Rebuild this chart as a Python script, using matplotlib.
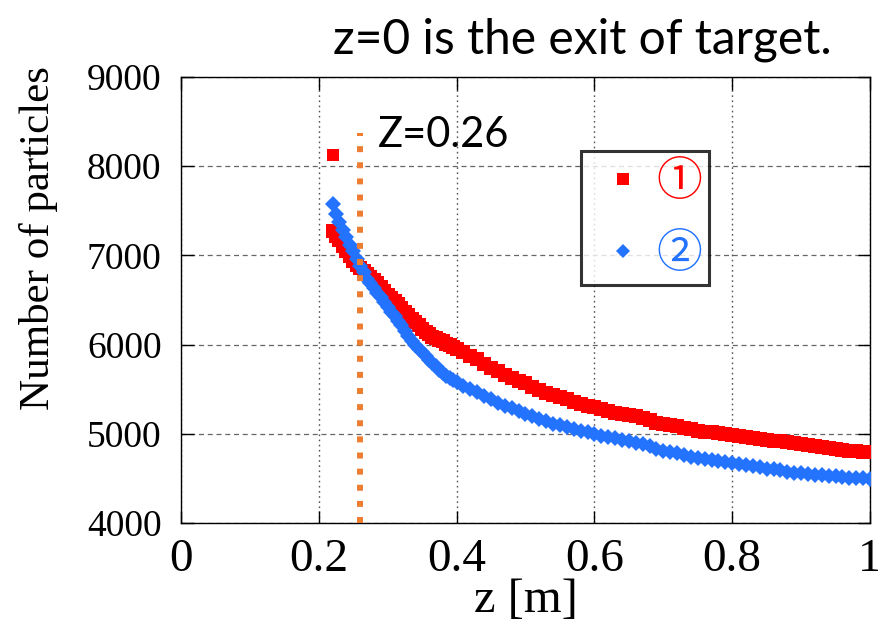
import numpy as np
import matplotlib
matplotlib.use("Agg")
import matplotlib.pyplot as plt

# particle counts along the beam line: every 5 mm up to 0.40 m, then every 1 cm
z_near = np.round(np.arange(0.22, 0.4001, 0.005), 3)
z_far = np.round(np.arange(0.41, 1.0001, 0.01), 2)

n_case1_near = [
    7270, 7220, 7170, 7110, 7050, 6990, 6935, 6895, 6860, 6825,
    6790, 6755, 6720, 6685, 6645, 6600, 6560, 6525, 6485, 6450,
    6410, 6370, 6330, 6290, 6255, 6215, 6180, 6145, 6115, 6090,
    6070, 6050, 6035, 6010, 5990, 5975, 5955,
]
n_case1_far = [
    5915, 5875, 5835, 5780, 5740, 5700, 5660, 5625, 5595, 5565,
    5530, 5490, 5460, 5440, 5415, 5385, 5355, 5335, 5315, 5295,
    5275, 5255, 5235, 5225, 5210, 5195, 5180, 5150, 5125, 5110,
    5100, 5090, 5070, 5050, 5035, 5025, 5015, 5005, 4995, 4985,
    4975, 4960, 4950, 4940, 4930, 4920, 4915, 4905, 4900, 4890,
    4875, 4865, 4850, 4840, 4830, 4820, 4810, 4805, 4800, 4795,
]
n_case2_near = [
    7580, 7460, 7380, 7290, 7205, 7120, 7045, 6960, 6880, 6810,
    6740, 6685, 6630, 6580, 6530, 6475, 6420, 6370, 6320, 6270,
    6215, 6155, 6095, 6045, 6000, 5955, 5915, 5870, 5830, 5795,
    5760, 5720, 5680, 5650, 5625, 5600, 5580,
]
n_case2_far = [
    5540, 5500, 5465, 5425, 5385, 5350, 5315, 5285, 5255, 5225,
    5195, 5165, 5140, 5115, 5095, 5075, 5055, 5035, 5015, 4995,
    4980, 4965, 4950, 4935, 4920, 4900, 4885, 4860, 4830, 4810,
    4800, 4785, 4765, 4745, 4730, 4720, 4705, 4695, 4685, 4675,
    4660, 4650, 4635, 4625, 4610, 4600, 4590, 4575, 4565, 4555,
    4545, 4540, 4535, 4530, 4525, 4515, 4510, 4505, 4500, 4495,
]
# first sample of case 1 sits well above the rest
z_case1_first = [0.22]
n_case1_first = [8130]

z_cut = 0.26
n_cut_top = 8370

x_ticks = [0, 0.2, 0.4, 0.6, 0.8, 1]
x_ticklabels = ["0", "0.2", "0.4", "0.6", "0.8", "1"]
y_ticks = [4000, 5000, 6000, 7000, 8000, 9000]

RED = "#ff0000"
BLUE = "#2473ff"
ORANGE = "#ed7d31"
SERIF = "Liberation Serif"

z = np.concatenate([z_near, z_far])
n_case1 = n_case1_near + n_case1_far
n_case2 = n_case2_near + n_case2_far

fig = plt.figure(figsize=(8.79, 6.32), dpi=100)
ax = fig.add_axes([181 / 879, 1 - 523 / 632, 689 / 879, 446 / 632])

ax.plot(z, n_case1, "s", color=RED, ms=10.5, mew=0, label="\u2460", zorder=3)
ax.plot(z_case1_first, n_case1_first, "s", color=RED, ms=8.6, mew=0, zorder=3)
ax.plot(z, n_case2, "D", color=BLUE, ms=8.2, mew=0, label="\u2461", zorder=4)

ax.plot([z_cut, z_cut], [4000, n_cut_top], color=ORANGE, lw=4.3,
        linestyle=(0, (1, 1.7)), solid_capstyle="butt",
        dash_capstyle="butt", zorder=5)
ax.text(z_cut + 0.026, n_cut_top - 20, "Z=0.26", family="Lato", fontsize=30,
        va="center", ha="left")

ax.set_xlim(0, 1)
ax.set_ylim(4000, 9000)
ax.set_xticks(x_ticks)
ax.set_xticklabels(x_ticklabels)
ax.set_yticks(y_ticks)

ax.yaxis.grid(True, linestyle=(0, (4, 3)), color="#666666", lw=0.9)
ax.xaxis.grid(True, linestyle=(0, (1.2, 2.5)), color="#555555", lw=1.0)
ax.set_axisbelow(True)
for s in ax.spines.values():
    s.set_linewidth(1.0)
    s.set_color("black")

ax.tick_params(direction="in", top=True, right=True, length=9, width=1)
ax.tick_params(axis="x", labelsize=34, pad=11)
ax.tick_params(axis="y", labelsize=27, pad=14)
for lab in ax.get_xticklabels() + ax.get_yticklabels():
    lab.set_family(SERIF)

ax.set_xlabel("z [m]", family=SERIF, fontsize=35, labelpad=-2)
ax.set_ylabel("Number of particles", family=SERIF, fontsize=31)
ax.yaxis.set_label_coords(-0.178, 0.638)

fig.text(582 / 879, 1 - 40 / 632, "z=0 is the exit of target.",
         family="Lato", fontsize=34.5, ha="center", va="center")

leg = ax.legend(loc="upper left", bbox_to_anchor=(580.7 / 879, 1 - 151 / 632),
                bbox_transform=fig.transFigure, frameon=True, fancybox=False,
                prop={"family": "Noto Sans CJK JP", "size": 33},
                labelcolor=[RED, BLUE], handlelength=1.55, handletextpad=-0.05,
                borderpad=0.15, labelspacing=0.5, borderaxespad=0,
                markerscale=0.82)
leg.get_frame().set_edgecolor("black")
leg.get_frame().set_linewidth(2.2)
leg.set_zorder(6)

fig.savefig("out.png", dpi=100)
